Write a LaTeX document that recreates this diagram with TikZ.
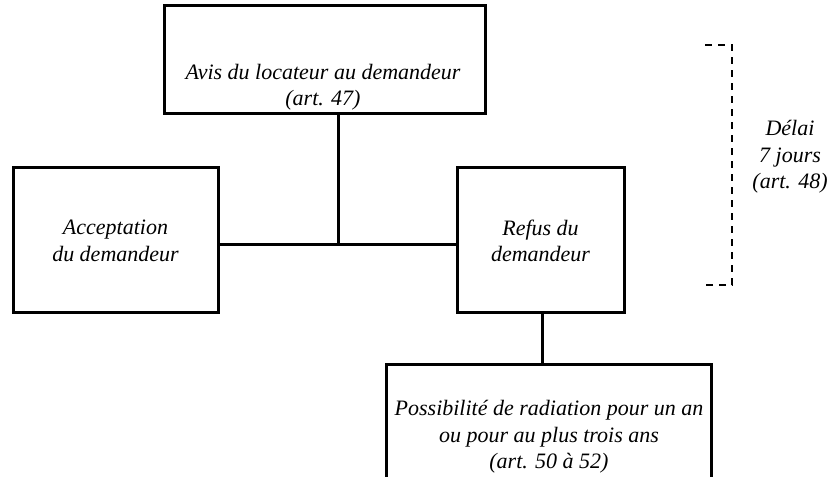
\documentclass[tikz,border=0pt]{standalone}
\usepackage{fontspec}
\setmainfont{Liberation Serif}
\begin{document}
\begin{tikzpicture}[x=1pt,y=-1pt,
  box/.style={draw=black,line width=3pt,inner sep=0pt,minimum width=#1},
  txt/.style={font=\fontsize{22}{26.5}\selectfont\itshape,align=center,inner sep=0pt},
  link/.style={draw=black,line width=3pt},
  brk/.style={draw=black,line width=1.8pt,dash pattern=on 7pt off 6pt}]
\useasboundingbox (0,0) rectangle (839,477);
\node[box=321pt,minimum height=108pt] (avis) at (324.5,59) {};
\node[box=205pt,minimum height=145pt] (acc) at (115.5,239.5) {};
\node[box=167pt,minimum height=145pt] (ref) at (540.5,239.5) {};
\node[inner sep=0pt,minimum width=324pt,minimum height=120pt] (poss) at (549,425) {};
\draw[line width=3pt] (poss.south west) -- (poss.north west) -- (poss.north east) -- (poss.south east);
\node[txt] (tavis) at (323,87) {Avis du locateur au demandeur\\(art. 47)};
\node[txt] (tacc) at (115.5,241) {Acceptation\\du demandeur};
\node[txt] (tref) at (540.5,241) {Refus du\\demandeur};
\node[txt] (tposs) at (549,437) {Possibilité de radiation pour un an\\ou pour au plus trois ans\\(art. 50 à 52)};
\coordinate (j) at (338,244);
\draw[link] (avis.south -| j) -- (j);
\draw[link] (acc.east |- j) -- (ref.west |- j);
\draw[link] (ref.south -| 542,0) -- (poss.north -| 542,0);
\coordinate (b1) at (705,45);
\coordinate (b2) at (732,45);
\coordinate (b3) at (732,285);
\coordinate (b4) at (705,285);
\draw[brk] (b1) -- (b2) -- (b3) -- (b4);
\node[txt] (delai) at (790,157) {Délai\\7 jours\\(art. 48)};
\end{tikzpicture}
\end{document}
